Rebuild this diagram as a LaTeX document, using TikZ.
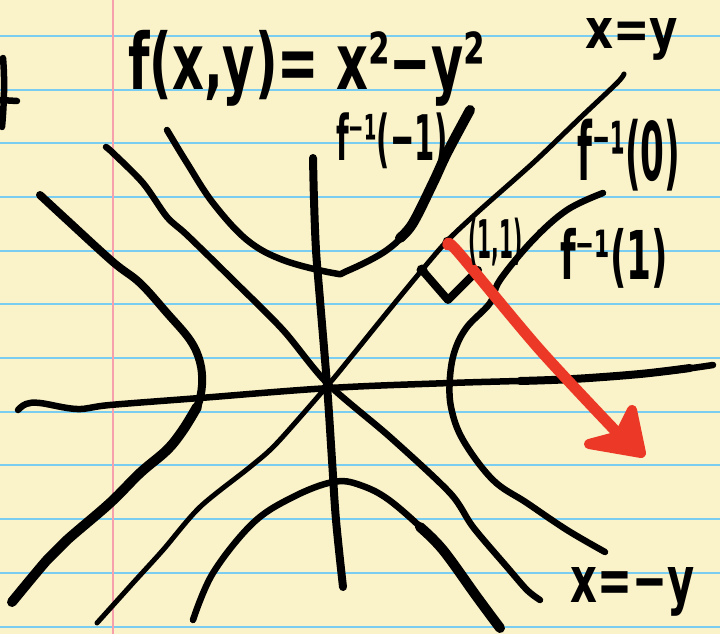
\documentclass[tikz,border=0pt]{standalone}
\usepackage{fontspec}
\usepackage{graphicx}
\setmainfont{DejaVu Sans}
\definecolor{paper}{RGB}{250,242,200}
\definecolor{ruleblue}{RGB}{120,205,240}
\definecolor{marginpink}{RGB}{245,160,172}
\definecolor{redink}{RGB}{236,56,38}
\begin{document}
\begin{tikzpicture}[x=1pt,y=-1pt,
  ink/.style={draw=black, line cap=round, line join=round, line width=6.5pt},
  thickink/.style={ink, line width=10pt},
  thinink/.style={ink, line width=5pt},
  hw/.style={inner sep=0pt, anchor=north west, text=black, font=\bfseries},
  redstroke/.style={draw=redink, line cap=round, line join=round, line width=11pt}]
\useasboundingbox (0,0) rectangle (720,634);
\fill[paper] (0,0) rectangle (720,634);
\foreach \yy in {36,90,143,197,251,304,358,412,465,519,573,627}
  \draw[ruleblue, line width=2pt] (0,\yy) -- (720,\yy);
\draw[marginpink, line width=2pt] (113,0) -- (113,634);

% cut-off fragment at the left edge
\draw[ink] (3,58) .. controls (5,80) and (4,105) .. (2,127);
\draw[ink] (0,100) -- (17,101);

% horizontal axis
\draw[ink] plot[smooth, tension=0.6] coordinates {(18,410) (26,404) (40,403) (77,409) (110,405) (200,398) (330,388) (450,383) (573,379) (660,372) (713,365)};
\draw[ink, line width=8pt] plot[smooth, tension=0.6] coordinates {(520,381) (573,379) (640,374) (690,368)};

% vertical axis
\draw[ink, line width=8pt] plot[smooth, tension=0.6] coordinates {(313,158) (314,200) (316,250) (320,300) (327,385) (332,460) (336,520) (343,587)};

% x = y
\draw[thinink] plot[smooth, tension=0.5] coordinates {(624,74) (617,83) (580,118) (533,163) (480,210) (448,240) (422,270) (385,315) (347,362) (328,385) (277,443) (250,467) (200,507) (163,550) (133,583) (97,623)};

% x = -y
\draw[ink] plot[smooth, tension=0.5] coordinates {(106,147) (113,153) (143,183) (167,217) (187,235) (233,280) (283,330) (327,383) (390,437) (450,493) (473,527) (507,567) (527,590) (540,600)};

% f^{-1}(1), left branch
\draw[ink, line width=8pt] plot[smooth, tension=0.6] coordinates {(40,195) (67,220) (113,262) (140,283) (167,313) (190,340) (200,362) (202,385) (197,407) (183,430) (167,450) (140,473) (110,503) (67,540) (47,560) (12,602)};
\draw[thickink] plot[smooth, tension=0.6] coordinates {(197,407) (183,430) (167,450) (140,473) (110,503) (67,540) (47,560) (12,602)};

% f^{-1}(1), right branch
\draw[ink] plot[smooth, tension=0.6] coordinates {(603,193) (567,210) (533,240) (500,280) (490,303) (467,327) (455,350) (450,377) (451,407) (463,440) (493,480) (527,503) (567,530) (605,552)};

% f^{-1}(-1), upper branch
\draw[ink] plot[smooth, tension=0.6] coordinates {(167,130) (187,163) (213,203) (247,240) (283,260) (333,273) (347,271) (387,250) (413,223) (433,183) (447,153) (470,110)};
\draw[thickink] plot[smooth, tension=0.6] coordinates {(400,238) (413,223) (433,183) (447,153) (470,110)};

% f^{-1}(-1), lower branch
\draw[ink] plot[smooth, tension=0.6] coordinates {(193,620) (213,573) (253,523) (293,497) (333,482) (360,485) (393,503) (443,550) (477,597) (500,628)};
\draw[thickink] plot[smooth, tension=0.6] coordinates {(420,527) (443,550) (477,597) (500,628)};

% right-angle mark at (1,1)
\coordinate (p11) at (448,242);
\coordinate (q) at (422,270);
\draw[ink, line width=8pt] (q) -- (448,300) -- (478,270);
\fill (p11) circle[radius=5.5pt];
\fill (q) circle[radius=5.5pt];

% red gradient arrow
\coordinate (tip) at (641,453);
\draw[redstroke] plot[smooth, tension=0.5] coordinates {(448,245) (458,252) (540,350) (626,442)};
\filldraw[redstroke, fill=redink, line width=10pt] (589,444) -- (tip) -- (632,410) -- (619,436) -- cycle;

% texts
\node[hw] (title) at (128,30) {\resizebox*{357pt}{76pt}{f(x,y)= x²−y²}};
\node[hw] (lxy) at (585,18) {\resizebox{93pt}{30pt}{x=y}};
\node[hw] (lf0) at (577,119) {\resizebox*{103pt}{72pt}{f⁻¹(0)}};
\node[hw] (lf1) at (560,228) {\resizebox*{108pt}{60pt}{f⁻¹(1)}};
\node[hw] (lfm1) at (336,113) {\resizebox*{112pt}{56pt}{f⁻¹(−1)}};
\node[hw] (lpt) at (468,218) {\resizebox*{54pt}{48pt}{(1,1)}};
\fill (540,232) circle[radius=3pt];
\node[hw] (lxmy) at (570,567) {\resizebox{124pt}{35pt}{x=−y}};
\end{tikzpicture}
\end{document}
